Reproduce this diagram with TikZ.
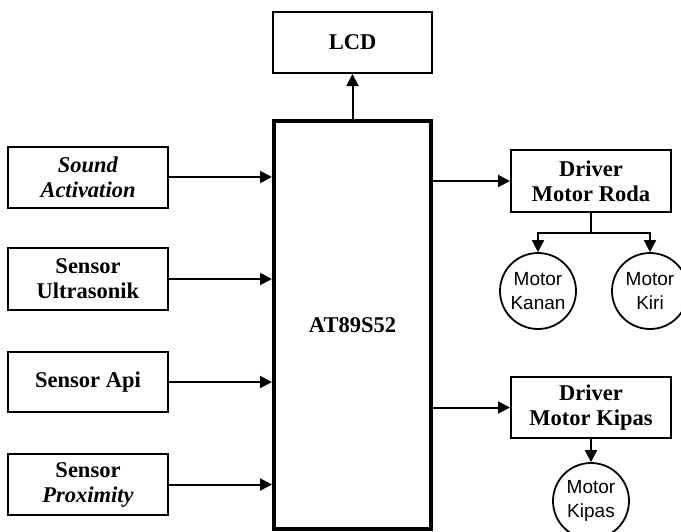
\documentclass[tikz,border=0pt]{standalone}
\usepackage{fontspec}
\setmainfont{Liberation Serif}
\newfontfamily\arialfont{Liberation Sans}
\usetikzlibrary{arrows.meta}
\tikzset{
  blk/.style={draw, line width=2pt, rectangle, inner sep=0pt, minimum width=160pt, minimum height=61pt, align=center, font=\fontsize{22.5}{25}\selectfont\bfseries},
  mcubox/.style={draw, line width=4pt, rectangle, inner sep=0pt, minimum width=157pt, minimum height=408pt, align=center, font=\fontsize{22.5}{25}\selectfont\bfseries},
  motor/.style={draw, line width=1.8pt, circle, inner sep=0pt, minimum size=76pt, align=center, font=\arialfont\fontsize{19}{23.5}\selectfont},
  arr/.style={line width=2pt, -{Triangle[length=12pt,width=12pt]}},
  ln/.style={line width=2pt}
}
\begin{document}
\begin{tikzpicture}[x=1pt,y=-1pt]
\useasboundingbox (0,0) rectangle (681,531);
\node[mcubox] (mcu) at (352.5,325) {AT89S52};
\node[blk, minimum width=159pt] (lcd) at (352.5,42.5) {LCD};
\node[blk] (sound) at (88,177) {\textit{Sound}\\\textit{Activation}};
\node[blk, minimum height=62pt] (ultra) at (88,279) {Sensor\\Ultrasonik};
\node[blk, minimum height=60pt] (api) at (88,382) {Sensor Api};
\node[blk] (prox) at (88,484.5) {Sensor\\\textit{Proximity}};
\node[blk, minimum height=62pt] (roda) at (591,181) {Driver\\Motor Roda};
\node[blk] (kipas) at (591,407.5) {Driver\\Motor Kipas};
\node[motor] (kanan) at (538,291) {Motor\\Kanan};
\node[motor] (kiri) at (650,291) {Motor\\Kiri};
\node[motor] (mkipas) at (591,501) {Motor\\Kipas};
\draw[arr] (mcu.north) -- (lcd.south);
\draw[arr] (sound.east) -- (sound.east -| mcu.west);
\draw[arr] (ultra.east) -- (ultra.east -| mcu.west);
\draw[arr] (api.east) -- (api.east -| mcu.west);
\draw[arr] (prox.east) -- (prox.east -| mcu.west);
\draw[arr] (mcu.east |- roda.west) -- (roda.west);
\draw[arr] (mcu.east |- kipas.west) -- (kipas.west);
\draw[ln] (roda.south) -- ++(0,20) coordinate (br);
\draw[arr] (br) -| (kanan.north);
\draw[arr] (br) -| (kiri.north);
\draw[arr] (kipas.south) -- (mkipas.north);
\end{tikzpicture}
\end{document}
